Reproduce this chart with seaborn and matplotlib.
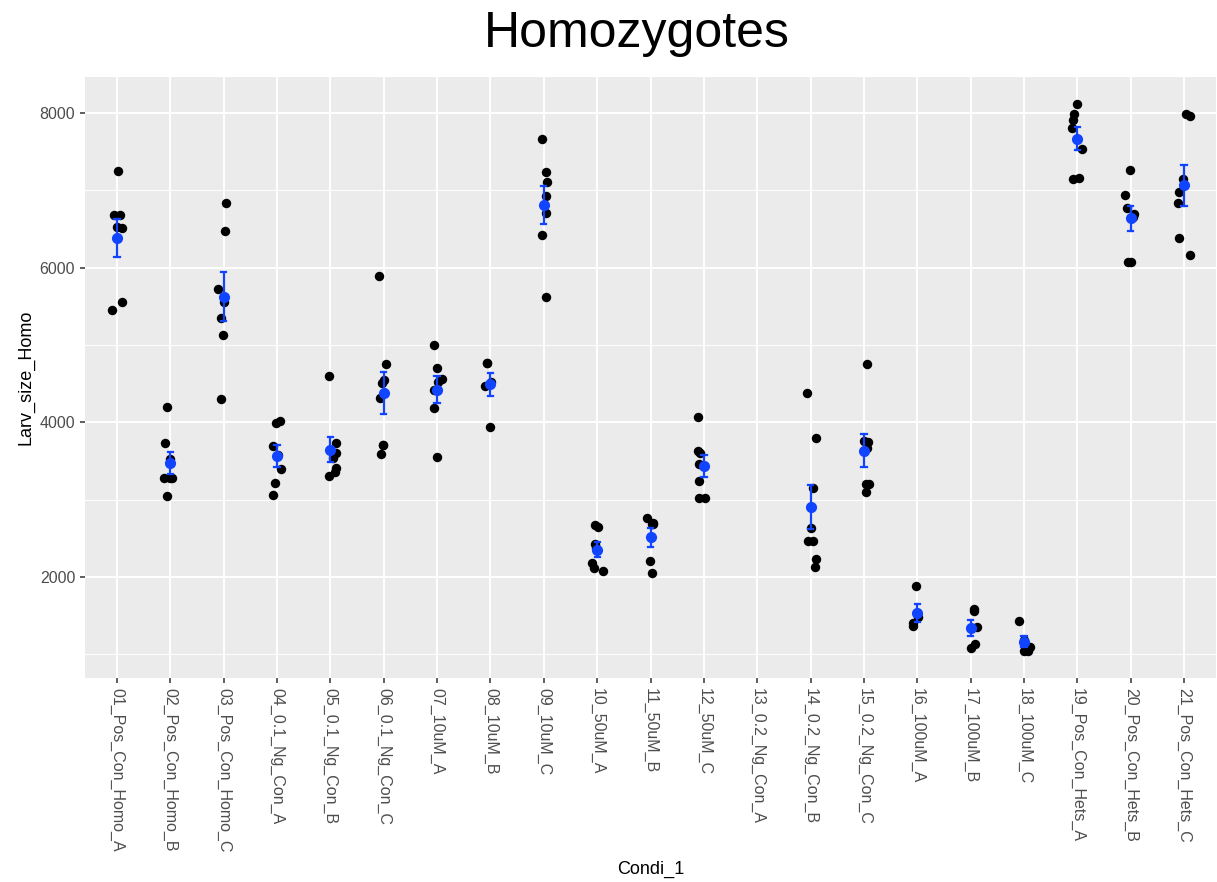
import numpy as np
import pandas as pd
import matplotlib
matplotlib.use('Agg')
import matplotlib.pyplot as plt
from matplotlib.ticker import MultipleLocator
import seaborn as sns

conditions = ['01_Pos_Con_Homo_A', '02_Pos_Con_Homo_B', '03_Pos_Con_Homo_C',
              '04_0.1_Ng_Con_A', '05_0.1_Ng_Con_B', '06_0.1_Ng_Con_C',
              '07_10uM_A', '08_10uM_B', '09_10uM_C',
              '10_50uM_A', '11_50uM_B', '12_50uM_C',
              '13_0.2_Ng_Con_A', '14_0.2_Ng_Con_B', '15_0.2_Ng_Con_C',
              '16_100uM_A', '17_100uM_B', '18_100uM_C',
              '19_Pos_Con_Hets_A', '20_Pos_Con_Hets_B', '21_Pos_Con_Hets_C']

# larval size per condition
size_01 = [7249, 6680, 6680, 6529, 6512, 5558, 5447]
size_02 = [4195, 3730, 3523, 3281, 3281, 3281, 3048]
size_03 = [6832, 6469, 5727, 5558, 5347, 5124, 4303]
size_04 = [4023, 3989, 3691, 3575, 3398, 3217, 3057]
size_05 = [4593, 3734, 3600, 3536, 3410, 3358, 3307]
size_06 = [5887, 4752, 4554, 4511, 4321, 3709, 3709, 3588]
size_07 = [4994, 4700, 4562, 4528, 4420, 4192, 3549]
size_08 = [4761, 4761, 4524, 4467, 3941]
size_09 = [7660, 7237, 7111, 6922, 6702, 6417, 5619]
size_10 = [2669, 2643, 2423, 2375, 2182, 2122, 2078]
size_11 = [2759, 2700, 2690, 2690, 2203, 2048]
size_12 = [4075, 3626, 3604, 3458, 3238, 3018, 3018]
size_13 = []
size_14 = [4382, 3795, 3157, 2640, 2467, 2467, 2235, 2132]
size_15 = [4760, 3756, 3740, 3674, 3199, 3199, 3104]
size_16 = [1890, 1479, 1405, 1371]
size_17 = [1582, 1556, 1349, 1138, 1087]
size_18 = [1435, 1180, 1100, 1048, 1048]
size_19 = [8112, 7983, 7909, 7810, 7530, 7163, 7150]
size_20 = [7262, 6935, 6766, 6689, 6658, 6076, 6076]
size_21 = [7991, 7961, 7150, 6978, 6839, 6379, 6159]

all_sizes = [size_01, size_02, size_03, size_04, size_05, size_06, size_07,
             size_08, size_09, size_10, size_11, size_12, size_13, size_14,
             size_15, size_16, size_17, size_18, size_19, size_20, size_21]

rows = []
for cond, vals in zip(conditions, all_sizes):
    for v in vals:
        rows.append((cond, v))
df = pd.DataFrame(rows, columns=['Condi_1', 'Larv_size_Homo'])

plt.rcParams['font.family'] = ['Liberation Sans', 'DejaVu Sans']

fig = plt.figure(figsize=(12.17, 8.82), dpi=100)
ax = fig.add_axes([0.0698, 0.2313, 0.9295, 0.6814])
ax.set_facecolor('#EBEBEB')

# jittered raw points, then mean +/- SE on top
np.random.seed(3)
sns.stripplot(data=df, x='Condi_1', y='Larv_size_Homo', order=conditions,
              color='black', size=6.8, linewidth=0, jitter=0.12, ax=ax, zorder=3)
sns.pointplot(data=df, x='Condi_1', y='Larv_size_Homo', order=conditions,
              errorbar='se', color='#1144ff', markers='o', markersize=6,
              linestyle='none', capsize=0.1, err_kws={'linewidth': 1.6},
              ax=ax)
for ln in ax.lines:
    ln.set_zorder(4)

# ggplot-ish expansion of the y range
lo, hi = df['Larv_size_Homo'].min(), df['Larv_size_Homo'].max()
pad = (hi - lo) * 0.05
ax.set_ylim(lo - pad, hi + pad)
ax.set_xlim(-0.6, len(conditions) - 0.4)

ax.yaxis.set_major_locator(MultipleLocator(2000))
ax.yaxis.set_minor_locator(MultipleLocator(1000))
ax.grid(which='major', color='white', linewidth=1.4)
ax.grid(which='minor', axis='y', color='white', linewidth=0.7)
ax.set_axisbelow(True)
for s in ax.spines.values():
    s.set_visible(False)

ax.tick_params(axis='both', which='major', length=3.5, width=1.1, color='#333333',
               labelcolor='#4D4D4D', labelsize=11.5)
ax.tick_params(axis='y', which='minor', length=0)
plt.setp(ax.get_xticklabels(), rotation=270, ha='center', va='top')

ax.set_xlabel('Condi_1', fontsize=13, labelpad=6)
ax.set_ylabel('Larv_size_Homo', fontsize=13, labelpad=4)
fig.text(0.523, 0.962, 'Homozygotes', ha='center', va='center', fontsize=36)

plt.savefig('out.png', dpi=100)
plt.close()
